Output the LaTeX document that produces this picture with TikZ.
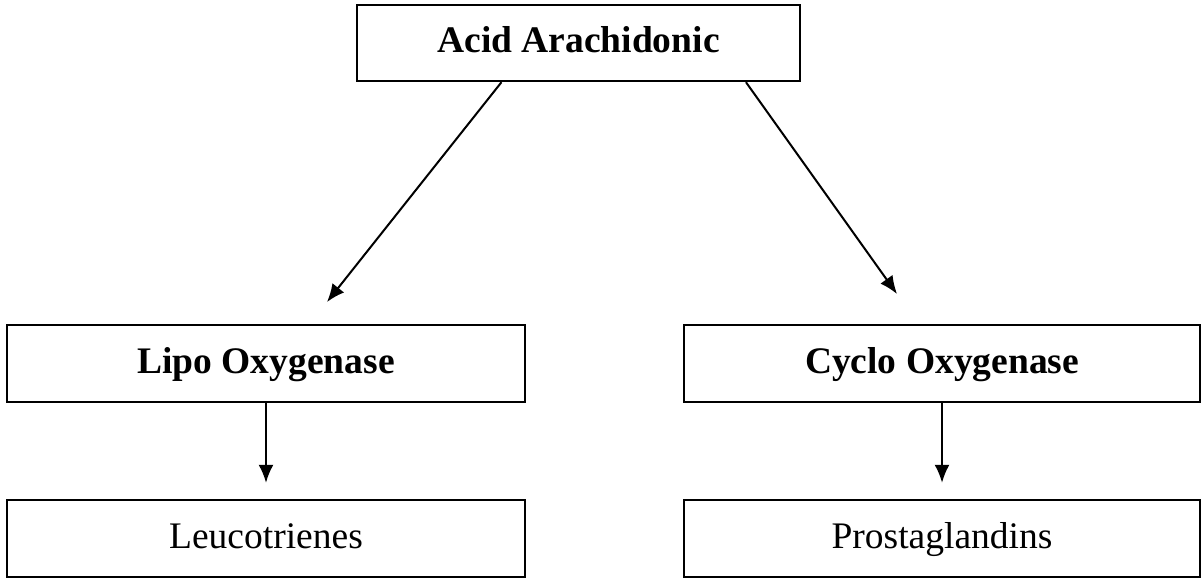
\documentclass[tikz,border=0pt]{standalone}
\usepackage{fontspec}
\setmainfont{Liberation Serif}
\usetikzlibrary{arrows.meta,calc}

\tikzset{
  box/.style={draw, line width=1.2pt, rectangle, inner sep=0pt,
    text height=13.5pt, text depth=4pt,
    font=\fontsize{18.75}{22}\selectfont},
  flow/.style={-{Latex[length=9pt,width=7.5pt]}, line width=1pt},
}

\begin{document}
\begin{tikzpicture}[x=0.5pt,y=-0.5pt]

  \useasboundingbox (0,0) rectangle (1202,579);

  % Top box.
  \node[box, minimum width=221.5pt, minimum height=38pt] (acid) at (578.5,43) {\textbf{Acid Arachidonic}};

  % Enzymes.
  \node[box, minimum width=259pt, minimum height=38.5pt] (lipo) at (266,363.5) {\textbf{Lipo Oxygenase}};
  \node[box, minimum width=258pt, minimum height=38.5pt] (cyclo) at (942,363.5) {\textbf{Cyclo Oxygenase}};

  % Products.
  \node[box, minimum width=259pt, minimum height=38.5pt] (leuco) at (266,538.5) {Leucotrienes};
  \node[box, minimum width=258pt, minimum height=38.5pt] (prosta) at (942,538.5) {Prostaglandins};

  % Branches from the top box.
  \coordinate (acidL) at ($(acid.south west)!0.327!(acid.south east)$);
  \coordinate (acidR) at ($(acid.south west)!0.876!(acid.south east)$);
  \coordinate (lipoIn) at (327,302);
  \coordinate (cycloIn) at (897,294);
  \draw[flow] (acidL) -- (lipoIn);
  \draw[flow] (acidR) -- (cycloIn);

  % Down to the products.
  \draw[flow, shorten >=8pt] (lipo.south) -- (leuco.north);
  \draw[flow, shorten >=8pt] (cyclo.south) -- (prosta.north);

\end{tikzpicture}
\end{document}
